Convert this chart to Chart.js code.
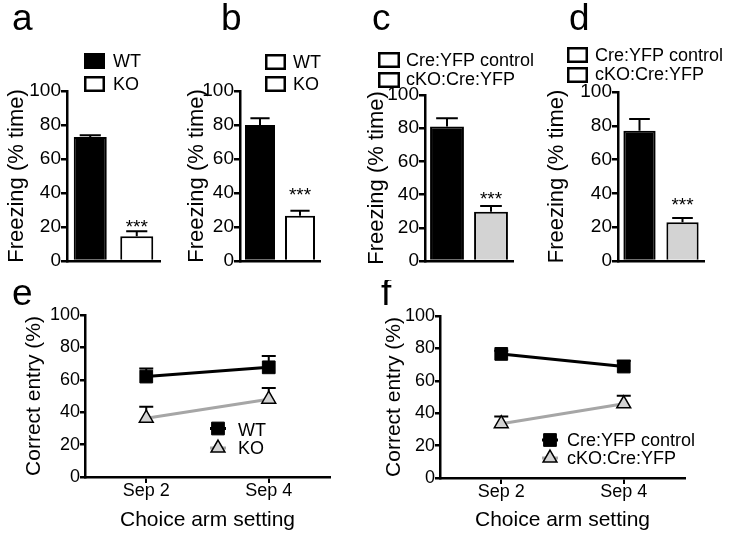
<!DOCTYPE html>
<html><head><meta charset="utf-8">
<script src="https://cdn.jsdelivr.net/npm/chart.js@4.4.1/dist/chart.umd.min.js"></script>
<style>
html,body{margin:0;padding:0;background:#fff;}
#fig{position:relative;width:729px;height:535px;overflow:hidden;background:#fff;}
canvas{position:absolute;}
</style></head><body><div id="fig"></div>
<script>
// ---------- data ----------
const groupsAB = ['WT', 'KO'];
const groupsCD = ['Cre:YFP control', 'cKO:Cre:YFP'];
const freezingA = [73, 14.5];
const freezingErrA = [1, 3];
const freezingB = [80, 26.6];
const freezingErrB = [4, 3];
const freezingC = [81, 29.7];
const freezingErrC = [5, 3.5];
const freezingD = [77, 23];
const freezingErrD = [7, 2.4];
const armSettings = ['Sep 2', 'Sep 4'];
const entryWT = [62, 67.7];
const entryErrWT = [5, 7];
const entryKO = [36.3, 48];
const entryErrKO = [7, 7];
const entryControl = [76.6, 68.8];
const entryErrControl = [2, 3.5];
const entryCKO = [33.5, 45.8];
const entryErrCKO = [4.5, 5];
const yMin = 0, yMax = 100, yStep = 20;

// ---------- helpers ----------
const FONT = '"Liberation Sans", Arial, Helvetica, sans-serif';
const fig = document.getElementById('fig');
function makeCanvas(box) {
  const c = document.createElement('canvas');
  c.width = box[2]; c.height = box[3];
  c.style.left = box[0] + 'px'; c.style.top = box[1] + 'px';
  c.style.width = box[2] + 'px'; c.style.height = box[3] + 'px';
  fig.appendChild(c);
  return c;
}
function drawMarker(ctx, style, x, y, r, fill, stroke, lw) {
  ctx.save(); ctx.beginPath();
  if (style === 'rect') { const s = r * Math.SQRT1_2; ctx.rect(x - s, y - s, 2 * s, 2 * s); }
  else {
    const a = 2 * Math.PI / 3;
    ctx.moveTo(x, y - r);
    ctx.lineTo(x + Math.sin(a) * r, y - Math.cos(a) * r);
    ctx.lineTo(x + Math.sin(2 * a) * r, y - Math.cos(2 * a) * r);
    ctx.closePath();
  }
  ctx.fillStyle = fill; ctx.fill();
  ctx.lineWidth = lw; ctx.strokeStyle = stroke; ctx.stroke();
  ctx.restore();
}
function yAxis(box, area, title, tickSize, titleSize, titlePad, tickLen) {
  return {
    min: yMin, max: yMax,
    ticks: { stepSize: yStep, color: '#000', font: { family: FONT, size: tickSize }, padding: 0 },
    grid: { display: true, drawOnChartArea: false, drawTicks: true, tickLength: tickLen, color: '#000', lineWidth: 2.5 },
    border: { display: true, color: '#000', width: 2.5 },
    title: { display: true, text: title, color: '#000', font: { family: FONT, size: titleSize }, padding: { top: titlePad, bottom: 0 } },
    afterFit: s => { s.width = area[0] - box[0]; }
  };
}

// ---------- bar panels ----------
function barPanel(o) {
  const box = o.box, area = o.area;
  const cv = makeCanvas(box);
  const deco = {
    id: 'deco' + o.letter,
    afterDatasetsDraw(chart) {
      const ctx = chart.ctx, ys = chart.scales.y;
      const meta = chart.getDatasetMeta(0);
      ctx.save();
      ctx.strokeStyle = '#000'; ctx.lineWidth = 2;
      meta.data.forEach((el, i) => {
        const top = ys.getPixelForValue(o.values[i] + o.errors[i]);
        const half = el.width * 0.32;
        ctx.beginPath();
        ctx.moveTo(el.x, el.y); ctx.lineTo(el.x, top);
        ctx.moveTo(el.x - half, top); ctx.lineTo(el.x + half, top);
        ctx.stroke();
        if (i === 1) {
          ctx.fillStyle = '#000';
          ctx.font = '19px ' + FONT; ctx.textAlign = 'center'; ctx.textBaseline = 'alphabetic';
          ctx.fillText('***', el.x, top - o.starGap);
        }
      });
      ctx.restore();
    },
    afterDraw(chart) {
      const ctx = chart.ctx;
      ctx.save();
      ctx.fillStyle = '#000';
      ctx.font = '37px ' + FONT; ctx.textAlign = 'left'; ctx.textBaseline = 'alphabetic';
      ctx.fillText(o.letter, o.letterPos[0] - box[0], o.letterPos[1] - box[1]);
      const L = o.legend;
      ctx.font = '18px ' + FONT;
      o.labels.forEach((lab, i) => {
        const y0 = L.rows[i] - box[1];
        const x0 = L.x - box[0];
        if (L.fills[i] === '#000') {
          ctx.fillStyle = '#000'; ctx.fillRect(x0, y0, L.w, L.h);
        } else {
          ctx.fillStyle = L.fills[i]; ctx.fillRect(x0, y0, L.w, L.h);
          ctx.lineWidth = 2.5; ctx.strokeStyle = '#000';
          ctx.strokeRect(x0 + 1.25, y0 + 1.25, L.w - 2.5, L.h - 2.5);
        }
        ctx.fillStyle = '#000';
        ctx.fillText(lab, L.tx - box[0], L.base[i] - box[1]);
      });
      ctx.restore();
    }
  };
  new Chart(cv, {
    type: 'bar',
    data: {
      labels: o.labels,
      datasets: [{ data: o.values, backgroundColor: o.fills, borderColor: '#000', borderWidth: 2,
        barPercentage: o.barPct, categoryPercentage: 1 }]
    },
    options: {
      responsive: false, animation: false, devicePixelRatio: 1,
      layout: { padding: { left: 0, top: area[1] - box[1], right: box[0] + box[2] - area[2], bottom: 0 } },
      plugins: { legend: { display: false }, tooltip: { enabled: false }, title: { display: false } },
      scales: {
        x: {
          offset: true,
          grid: { display: false },
          border: { display: true, color: '#000', width: 2.5 },
          ticks: { display: false },
          afterFit: s => { s.height = box[1] + box[3] - area[3]; }
        },
        y: yAxis(box, area, 'Freezing (% time)', 19, 22, 4, 6)
      }
    },
    plugins: [deco]
  });
}

barPanel({
  letter: 'a', letterPos: [12, 30], box: [0, 0, 180, 280], area: [67, 91, 160, 261],
  labels: groupsAB, values: freezingA, errors: freezingErrA, fills: ['#000', '#fff'], barPct: 0.71, starGap: -2,
  legend: { x: 84, w: 21, h: 16, rows: [53, 76], tx: 113, base: [67, 90], fills: ['#000', '#fff'] }
});
barPanel({
  letter: 'b', letterPos: [221, 30], box: [180, 0, 180, 280], area: [240, 91, 320, 261],
  labels: groupsAB, values: freezingB, errors: freezingErrB, fills: ['#000', '#fff'], barPct: 0.75, starGap: 9.7,
  legend: { x: 265, w: 21, h: 16, rows: [54, 76], tx: 293, base: [68, 90], fills: ['#fff', '#fff'] }
});
barPanel({
  letter: 'c', letterPos: [372, 30], box: [360, 0, 180, 280], area: [425, 95, 513, 261],
  labels: groupsCD, values: freezingC, errors: freezingErrC, fills: ['#000', '#d3d3d3'], barPct: 0.77, starGap: 1,
  legend: { x: 378, w: 22, h: 16, rows: [52, 72], tx: 406, base: [66, 85], fills: ['#fff', '#fff'] }
});
barPanel({
  letter: 'd', letterPos: [569, 30], box: [540, 0, 189, 280], area: [618, 92, 704, 261],
  labels: groupsCD, values: freezingD, errors: freezingErrD, fills: ['#000', '#d3d3d3'], barPct: 0.75, starGap: 7,
  legend: { x: 567, w: 21, h: 16, rows: [47, 67], tx: 595, base: [61, 80], fills: ['#fff', '#fff'] }
});

// ---------- line panels ----------
function linePanel(o) {
  const box = o.box, area = o.area;
  const cv = makeCanvas(box);
  const deco = {
    id: 'deco' + o.letter,
    beforeDatasetsDraw(chart) {
      const ctx = chart.ctx, ys = chart.scales.y;
      ctx.save();
      ctx.strokeStyle = '#000'; ctx.lineWidth = 2;
      o.series.forEach((s, di) => {
        const meta = chart.getDatasetMeta(di);
        meta.data.forEach((pt, i) => {
          const top = ys.getPixelForValue(s.values[i] + s.errors[i]);
          ctx.beginPath();
          ctx.moveTo(pt.x, pt.y); ctx.lineTo(pt.x, top);
          ctx.moveTo(pt.x - 7, top); ctx.lineTo(pt.x + 7, top);
          ctx.stroke();
        });
      });
      ctx.restore();
    },
    afterDraw(chart) {
      const ctx = chart.ctx;
      ctx.save();
      ctx.fillStyle = '#000';
      ctx.font = '37px ' + FONT; ctx.textAlign = 'left'; ctx.textBaseline = 'alphabetic';
      ctx.fillText(o.letter, o.letterPos[0] - box[0], o.letterPos[1] - box[1]);
      const L = o.legend;
      ctx.font = '18px ' + FONT;
      o.series.forEach((s, i) => {
        const cx = L.x - box[0], cy = L.rows[i] - box[1];
        ctx.strokeStyle = s.line; ctx.lineWidth = 3;
        ctx.beginPath(); ctx.moveTo(cx - 8, cy); ctx.lineTo(cx + 8, cy); ctx.stroke();
        drawMarker(ctx, s.style, cx, cy, s.radius, s.fill, '#000', s.markerBorder);
        ctx.fillStyle = '#000';
        ctx.fillText(s.label, L.tx - box[0], L.base[i] - box[1]);
      });
      ctx.restore();
    }
  };
  new Chart(cv, {
    type: 'line',
    data: {
      labels: armSettings,
      datasets: o.series.map(s => ({
        label: s.label, data: s.values, borderColor: s.line, borderWidth: 3,
        pointStyle: s.style, pointRadius: s.radius, pointBackgroundColor: s.fill,
        pointBorderColor: '#000', pointBorderWidth: s.markerBorder, tension: 0, fill: false
      }))
    },
    options: {
      responsive: false, animation: false, devicePixelRatio: 1,
      layout: { padding: { left: 0, top: area[1] - box[1], right: box[0] + box[2] - area[2], bottom: 0 } },
      plugins: { legend: { display: false }, tooltip: { enabled: false }, title: { display: false } },
      scales: {
        x: {
          offset: true,
          grid: { display: true, drawOnChartArea: false, drawTicks: true, tickLength: 6, color: '#000', lineWidth: 2 },
          border: { display: true, color: '#000', width: 2.5 },
          ticks: { color: '#000', font: { family: FONT, size: 18 }, padding: -3 },
          title: { display: true, text: 'Choice arm setting', color: '#000', font: { family: FONT, size: 21 }, padding: { top: 0, bottom: 2 } },
          afterFit: s => { s.height = box[1] + box[3] - area[3]; }
        },
        y: yAxis(box, area, 'Correct entry (%)', 18, 21, 22, 5)
      }
    },
    plugins: [deco]
  });
}

linePanel({
  letter: 'e', letterPos: [12, 305], box: [0, 280, 360, 255], area: [85, 315, 330, 477],
  series: [
    { label: 'WT', values: entryWT, errors: entryErrWT, line: '#000', style: 'rect', radius: 9, fill: '#000', markerBorder: 1 },
    { label: 'KO', values: entryKO, errors: entryErrKO, line: '#a6a6a6', style: 'triangle', radius: 8, fill: '#d3d3d3', markerBorder: 1.5 }
  ],
  legend: { x: 218, rows: [428.5, 448], tx: 238, base: [436, 454] }
});
linePanel({
  letter: 'f', letterPos: [381, 305], box: [360, 280, 369, 255], area: [440, 316, 685, 478],
  series: [
    { label: 'Cre:YFP control', values: entryControl, errors: entryErrControl, line: '#000', style: 'rect', radius: 9, fill: '#000', markerBorder: 1 },
    { label: 'cKO:Cre:YFP', values: entryCKO, errors: entryErrCKO, line: '#a6a6a6', style: 'triangle', radius: 8, fill: '#d3d3d3', markerBorder: 1.5 }
  ],
  legend: { x: 550, rows: [440, 458], tx: 567, base: [446, 464] }
});
</script>
</body></html>
